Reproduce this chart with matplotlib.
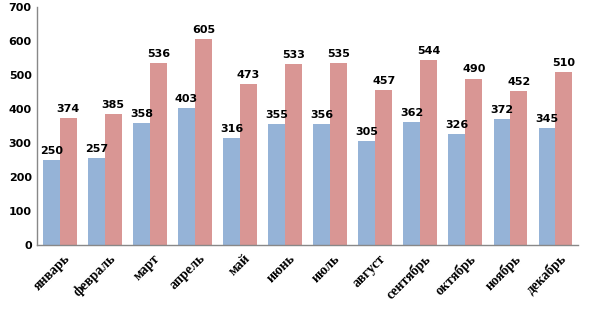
import matplotlib
matplotlib.use("Agg")
import matplotlib.pyplot as plt
import numpy as np

months = ["январь", "февраль", "март", "апрель", "май", "июнь", "июль",
          "август", "сентябрь", "октябрь", "ноябрь", "декабрь"]
series_a = [250, 257, 358, 403, 316, 355, 356, 305, 362, 326, 372, 345]
series_b = [374, 385, 536, 605, 473, 533, 535, 457, 544, 490, 452, 510]
yticks = [0, 100, 200, 300, 400, 500, 600, 700]

fig = plt.figure(figsize=(5.91, 3.11), dpi=100)
ax = fig.add_axes([0.063, 0.212, 0.915, 0.765])

x = np.arange(len(months))
w = 0.375
b1 = ax.bar(x - w/2, series_a, w, color="#95B3D7")
b2 = ax.bar(x + w/2, series_b, w, color="#D99694")

for bars, vals in ((b1, series_a), (b2, series_b)):
    for r, v in zip(bars, vals):
        ax.text(r.get_x() + r.get_width()/2, v + 12, str(v), ha="center", va="bottom",
                fontsize=8, fontweight="bold", family="DejaVu Sans")

ax.set_xlim(-0.5, len(months) - 0.5)
ax.set_ylim(0, 700)
ax.set_yticks(yticks)
ax.set_yticklabels([str(t) for t in yticks], fontsize=8, fontweight="bold")
ax.set_xticks(x + 0.08)
ax.set_xticklabels(months, rotation=45, ha="right", rotation_mode="anchor",
                   fontsize=10, fontweight="bold", family="Liberation Serif")
ax.tick_params(axis="y", length=0, pad=4)
ax.tick_params(axis="x", length=0, pad=5)
for s in ("top", "right"):
    ax.spines[s].set_visible(False)
for s in ("left", "bottom"):
    ax.spines[s].set_color("#888888")
    ax.spines[s].set_linewidth(1)

fig.savefig("out.png", dpi=100)
